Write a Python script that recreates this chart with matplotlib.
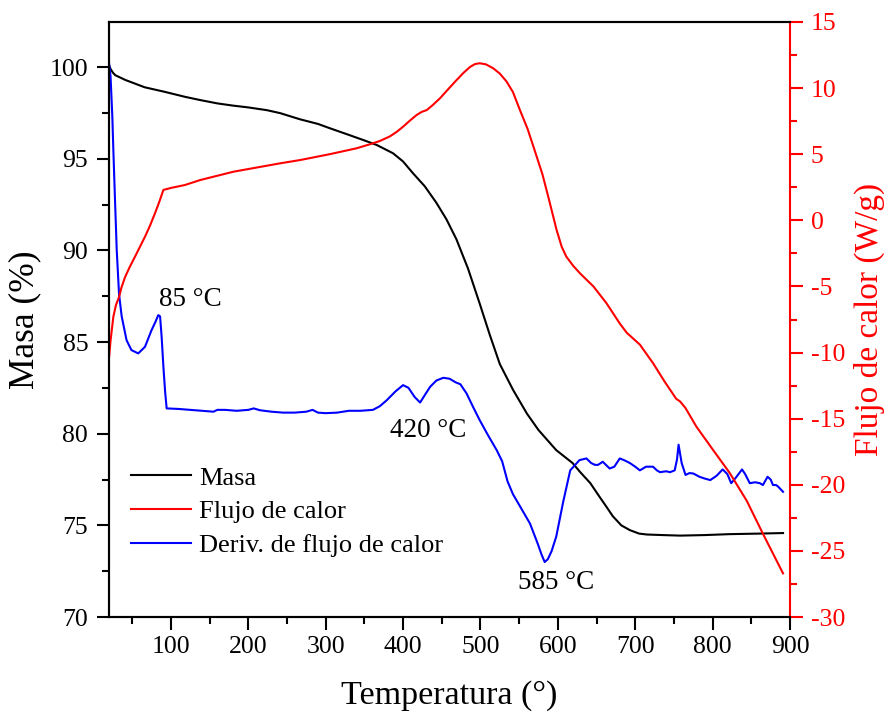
import matplotlib
matplotlib.use('Agg')
import matplotlib.pyplot as plt
from matplotlib.ticker import MultipleLocator

plt.rcParams['font.family'] = ['Liberation Serif', 'DejaVu Serif']
plt.rcParams['axes.unicode_minus'] = False

# ---------------- data ----------------
T_masa = [20, 22, 25, 28, 41, 66, 92, 118, 138, 160, 180, 200, 224, 241,
          267, 290, 305, 330, 350, 366, 387, 400, 413, 428, 443, 456, 469, 484,
          499, 512, 525, 542, 560, 575, 598, 619, 629, 642, 654, 663, 671,
          682, 693, 705, 715, 735, 758, 790, 822, 860, 891]
masa = [100.1, 99.9, 99.7, 99.56, 99.3, 98.9, 98.65, 98.38, 98.2, 98.02,
        97.9, 97.8, 97.65, 97.49, 97.15, 96.9, 96.67, 96.3, 96.0, 95.75, 95.3,
        94.85, 94.2, 93.5, 92.6, 91.7, 90.6, 89.0, 87.1, 85.4, 83.8, 82.4,
        81.1, 80.2, 79.1, 78.4, 77.9, 77.3, 76.55, 76.0, 75.5, 75.0, 74.74,
        74.55, 74.5, 74.47, 74.44, 74.47, 74.52, 74.55, 74.58]

T_flujo = [20, 22, 25.6, 29, 33, 36, 40.7, 47, 53.6, 60, 66.5, 73, 79.4, 85,
           90.3, 100, 118, 138, 181, 241, 267, 305, 340, 357, 370, 383, 392, 400,
           409, 417.6, 424, 430.6, 438, 447.7, 458, 469, 478, 486.5, 493, 499,
           507, 516.5, 525, 533.7, 542, 551, 561, 570, 580, 588, 598.4, 605,
           611, 620, 628.5, 646, 663, 680, 689, 706, 723, 738, 753, 758, 765,
           779, 801, 822, 844, 865, 891]
flujo = [-10.4, -9.1, -7.3, -6.4, -5.8, -5.1, -4.3, -3.5, -2.75, -2.0, -1.24,
         -0.4, 0.53, 1.4, 2.3, 2.45, 2.67, 3.05, 3.68, 4.31, 4.56, 5.0, 5.45,
         5.75, 6.0, 6.35, 6.7, 7.08, 7.55, 7.97, 8.2, 8.34, 8.7, 9.23, 9.9,
         10.6, 11.15, 11.6, 11.82, 11.88, 11.8, 11.5, 11.1, 10.5, 9.7, 8.34,
         6.9, 5.3, 3.5, 1.7, -0.73, -2.0, -2.75, -3.45, -4.0, -5.0, -6.28,
         -7.8, -8.5, -9.4, -10.8, -12.2, -13.5, -13.7, -14.2, -15.6, -17.4,
         -19.1, -21.2, -23.7, -26.7]

T_deriv = [20, 22, 24.3, 25.6, 27.8, 30, 32, 33, 36.4, 42.7, 49, 57.8, 66.5, 75,
           80, 83.7, 86, 88, 90.3, 92.5, 94.5,
           110, 125, 140, 155, 160, 170, 185, 200, 207, 215, 230, 245, 260,
           275, 283, 290, 300, 315, 330, 345, 361, 370, 379, 390, 400, 407, 415,
           422, 428, 435, 443, 452, 460, 468, 474, 482, 490, 499, 510, 521, 528,
           535, 542, 553, 564, 574, 579, 583, 587, 592, 598, 607, 616, 628, 637,
           643, 648, 652, 658, 667, 673, 680, 686, 693, 700, 706, 714, 723, 728,
           732, 740, 745, 751, 754, 756, 758, 760, 765, 770, 775, 783, 790, 797,
           805, 813, 819, 824, 830, 838, 842, 848, 855, 861, 865, 871, 875, 878,
           882, 885, 891]
deriv = [100.25, 99.5, 97.3, 95.5, 92.7, 90.0, 88.4, 87.6, 86.4, 85.1, 84.56,
         84.38, 84.74, 85.65, 86.1, 86.47, 86.4, 85.3, 83.65, 82.3, 81.38,
         81.35, 81.3, 81.25, 81.2, 81.3, 81.3, 81.25, 81.3, 81.38, 81.28,
         81.2, 81.15, 81.15, 81.2, 81.3, 81.15, 81.12, 81.15, 81.25, 81.25, 81.3,
         81.5, 81.83, 82.3, 82.65, 82.5, 82.0, 81.7, 82.1, 82.56, 82.9, 83.05,
         83.0, 82.8, 82.7, 82.2, 81.5, 80.74, 79.9, 79.1, 78.5, 77.4, 76.7,
         75.9, 75.1, 74.0, 73.4, 73.0, 73.15, 73.6, 74.4, 76.3, 78.0, 78.56,
         78.65, 78.4, 78.3, 78.3, 78.47, 78.1, 78.2, 78.65, 78.55, 78.4, 78.2,
         78.0, 78.2, 78.2, 78.0, 77.9, 77.95, 77.9, 78.0, 78.6, 79.4, 78.9,
         78.4, 77.75, 77.85, 77.83, 77.65, 77.55, 77.47, 77.7, 78.05, 77.8,
         77.3, 77.6, 78.05, 77.8, 77.3, 77.35, 77.3, 77.2, 77.65, 77.5, 77.2,
         77.2, 77.1, 76.83]

x_ticks = [100, 200, 300, 400, 500, 600, 700, 800, 900]
masa_ticks = [70, 75, 80, 85, 90, 95, 100]
flujo_ticks = [-30, -25, -20, -15, -10, -5, 0, 5, 10, 15]

annotations = [("85 °C", 125.3, 87.3), ("420 °C", 432.8, 80.2), ("585 °C", 598.2, 71.9)]

# ---------------- figure ----------------
fig = plt.figure(figsize=(8.9, 7.15), dpi=100)
ax = fig.add_axes([109 / 890, 1 - 617 / 715, 681 / 890, 595 / 715])
ax2 = ax.twinx()

l1, = ax.plot(T_masa, masa, color='black', lw=1.5, label='Masa')
l3, = ax.plot(T_deriv, deriv, color='blue', lw=1.5, label='Deriv. de flujo de calor')
l2, = ax2.plot(T_flujo, flujo, color='red', lw=1.5, label='Flujo de calor')

ax.set_xlim(20, 900)
ax.set_ylim(70, 102.46)
ax2.set_ylim(-30, 15)

ax.set_xticks(x_ticks)
ax.set_yticks(masa_ticks)
ax2.set_yticks(flujo_ticks)
ax.xaxis.set_minor_locator(MultipleLocator(50))
ax.yaxis.set_minor_locator(MultipleLocator(2.5))
ax2.yaxis.set_minor_locator(MultipleLocator(2.5))

for sp in ax.spines.values():
    sp.set_linewidth(1.5)
for sp in ax2.spines.values():
    sp.set_linewidth(1.5)
ax.spines['right'].set_visible(False)
ax2.spines['right'].set_color('red')

ax.tick_params(axis='both', which='major', direction='out', length=9, width=1.5,
               labelsize=18.5, top=False, right=False)
ax.tick_params(axis='both', which='minor', direction='out', length=5, width=1.5,
               top=False, right=False)
ax.tick_params(axis='x', pad=5)
ax.tick_params(axis='y', pad=6)
ax2.tick_params(axis='y', which='major', direction='out', length=9, width=1.5,
                labelsize=18.5, colors='red', pad=6)
ax2.tick_params(axis='y', which='minor', direction='out', length=5, width=1.5,
                colors='red')

ax.set_xlabel('Temperatura (°)', fontsize=24.5, labelpad=16)
ax.set_ylabel('Masa (%)', fontsize=25.5, labelpad=6)
ax2.set_ylabel('Flujo de calor (W/g)', fontsize=24, color='red', labelpad=6)

for txt, tx, ty in annotations:
    ax.text(tx, ty, txt, fontsize=19.5, ha='center', va='center')

ax.legend([l1, l2, l3], ['Masa', 'Flujo de calor', 'Deriv. de flujo de calor'],
          loc='center left', bbox_to_anchor=(0.032, 0.177), frameon=False,
          fontsize=19, handlelength=2.3, handletextpad=0.3, labelspacing=0.39,
          borderpad=0, borderaxespad=0)

fig.savefig('out.png', dpi=100)
